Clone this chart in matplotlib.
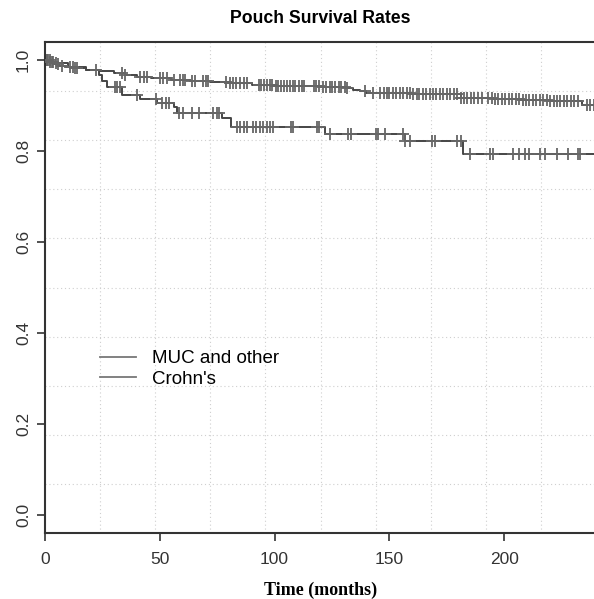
import numpy as np
import matplotlib.pyplot as plt
from matplotlib.lines import Line2D

# Kaplan-Meier step data (months, survival)
muc_times = [0, 2, 4, 6, 9, 13, 18, 24, 30, 35, 40, 46, 55, 63, 72, 80, 90, 100, 110,
             120, 131, 134, 137, 140, 160, 170, 181, 195, 208, 220, 234]
muc_surv = [1.0, 0.995, 0.991, 0.988, 0.985, 0.982, 0.979, 0.976, 0.972, 0.968, 0.963,
            0.960, 0.957, 0.954, 0.951, 0.949, 0.946, 0.944, 0.943, 0.941, 0.939,
            0.935, 0.932, 0.928, 0.926, 0.925, 0.917, 0.915, 0.912, 0.910, 0.901]
muc_censor = [1, 1.5, 2, 3, 3.5, 5.5, 7.5, 11, 12, 13, 14, 22, 33.5, 35, 41.5, 43, 44.5,
              50, 51.5, 53, 56, 59, 60, 61, 64, 65.5, 69, 70, 71, 79, 80.5, 82, 83, 85,
              86.5, 88, 93, 94, 95.5, 96.5, 98, 99, 100.5, 101.5, 103, 104, 105.5, 106.5,
              108, 109, 110.5, 112, 113, 117, 118, 119.5, 121, 122.5, 124, 125, 126.5,
              128, 129, 130.5, 131.5, 139.5, 143, 146, 147.5, 149, 150, 151.5, 153, 154.5,
              156, 157.5, 159, 160.5, 162, 163, 164.5, 166, 167.5, 169, 170.5, 172, 173.5,
              175, 176.5, 178, 179.5, 181, 182.5, 184, 185.5, 187, 188.5, 190.5, 193,
              194.5, 196, 197.5, 199, 200.5, 202, 203.5, 205, 206.5, 208, 209.5, 211,
              212.5, 214, 215.5, 217, 218.5, 220, 221.5, 223, 224.5, 226, 227.5, 229,
              230.5, 232, 236, 237.5, 239]

crohn_times = [0, 3, 10, 18, 23.5, 25, 27, 33.5, 41.5, 49, 56, 57.5, 77, 81, 122, 157, 182]
crohn_surv = [1.0, 0.994, 0.985, 0.979, 0.968, 0.955, 0.94, 0.923, 0.914, 0.906, 0.897,
              0.884, 0.873, 0.853, 0.838, 0.822, 0.794]
crohn_censor = [1, 2, 5, 30.5, 31.5, 32.5, 40, 48.5, 51, 52.5, 54, 58.5, 60, 64, 67, 73,
                75, 76, 83.5, 85, 86.5, 88, 90.5, 92, 93.5, 95, 96.5, 98, 99.5, 107, 108,
                118.5, 119.5, 124, 132, 133.5, 144, 145, 148, 156, 157, 159, 168.5, 170,
                179.5, 181, 185, 194, 195, 204, 206.5, 209, 211, 215.5, 218, 223, 228,
                232, 233]

labels = ["MUC and other", "Crohn's"]

line_col = "#454545"

fig = plt.figure(figsize=(5.94, 5.99), dpi=100)
ax = fig.add_axes([45 / 594, 66 / 599, 551 / 594, 491 / 599])


def km_plot(times, surv, censor, end):
    t = np.r_[times, end]
    s = np.r_[surv, surv[-1]]
    ax.step(t, s, where="post", color=line_col, lw=1.4, zorder=3)
    idx = np.searchsorted(times, censor, side="right") - 1
    cs = np.asarray(surv)[idx]
    ax.plot(censor, cs, ls="none", marker="+", ms=9, mew=1.3, color="#666666", zorder=4)


km_plot(muc_times, muc_surv, muc_censor, 240)
km_plot(crohn_times, crohn_surv, crohn_censor, 240)

ax.set_xlim(0, 240)
ax.set_ylim(-0.04, 1.04)

# grid like R's grid(): 10 equal cells across the plot region
for gx in np.linspace(0, 240, 11)[1:-1]:
    ax.axvline(gx, color="#cfcfcf", lw=0.8, ls=(0, (1, 2.5)), zorder=1)
for gy in np.linspace(-0.04, 1.04, 11)[1:-1]:
    ax.axhline(gy, color="#cfcfcf", lw=0.8, ls=(0, (1, 2.5)), zorder=1)

ax.set_xticks([0, 50, 100, 150, 200])
ax.set_yticks([0, 0.2, 0.4, 0.6, 0.8, 1.0])
ax.set_yticklabels(["0.0", "0.2", "0.4", "0.6", "0.8", "1.0"], rotation=90, va="center")
ax.tick_params(direction="out", length=6, width=1.2, color="#333333", labelsize=12.5,
               labelcolor="#333333", pad=4)
for lab in ax.get_xticklabels() + ax.get_yticklabels():
    lab.set_family("Liberation Sans")
ax.tick_params(axis="x", pad=8)
for sp in ax.spines.values():
    sp.set_color("#333333")
    sp.set_linewidth(1.5)

ax.set_title("Pouch Survival Rates", fontsize=12.7, fontweight="bold",
             family="Liberation Sans", pad=14)
ax.set_xlabel("Time (months)", fontsize=13, fontweight="bold", family="Liberation Serif",
              labelpad=10)

handles = [Line2D([0], [0], color="#777777", lw=1.3) for _ in labels]
ax.legend(handles, labels, loc="upper left", bbox_to_anchor=(0.07, 0.407), frameon=False,
          prop={"family": "Liberation Sans", "size": 13.5}, handlelength=1.9,
          handletextpad=0.85, labelspacing=0.2)

fig.savefig("out.png", dpi=100)
